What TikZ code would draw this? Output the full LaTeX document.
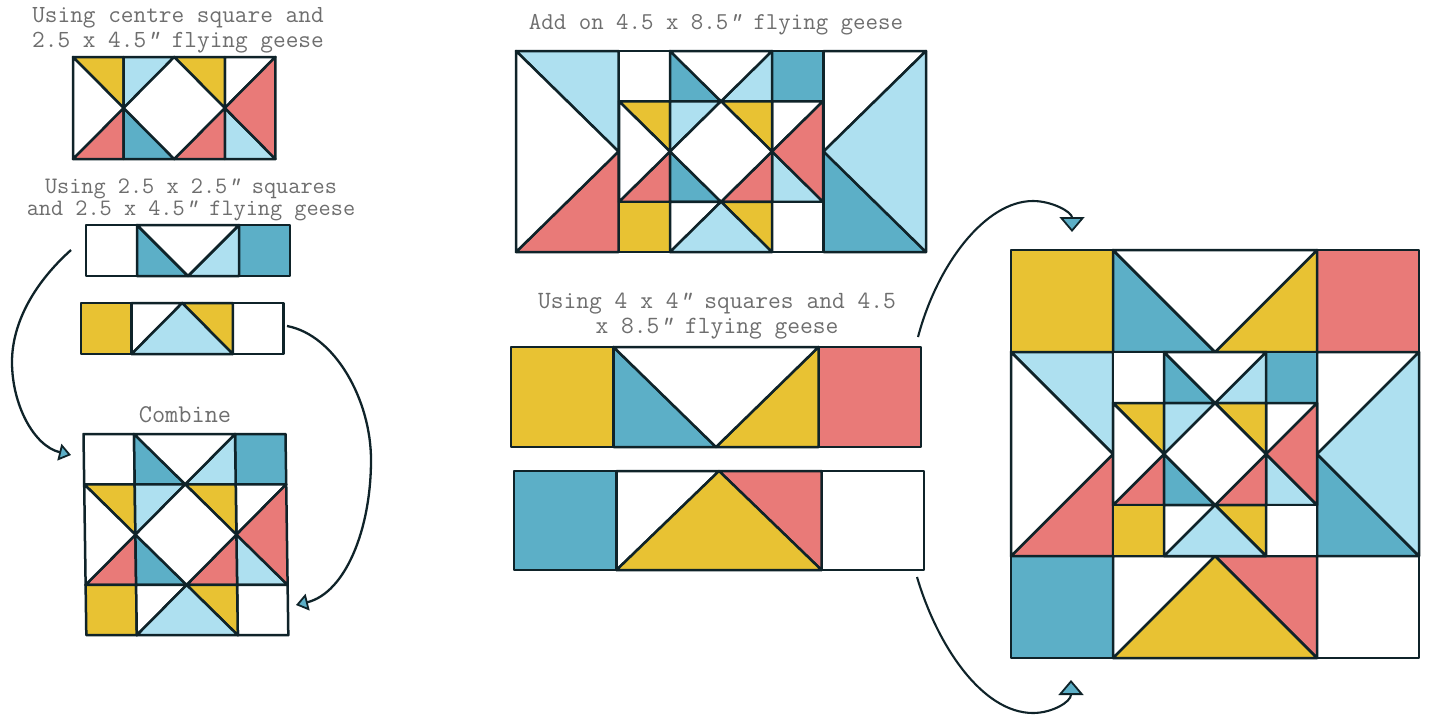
\documentclass[tikz,border=0pt]{standalone}
\usetikzlibrary{arrows.meta}
\definecolor{qy}{HTML}{E8C233}
\definecolor{ql}{HTML}{AEE0F0}
\definecolor{qd}{HTML}{5CAFC7}
\definecolor{qr}{HTML}{E97A78}
\definecolor{qk}{HTML}{0F2329}
\definecolor{qt}{HTML}{6E6E6E}
\tikzset{
  patch/.style={draw=qk,line width=2.5pt,line join=round},
  caption/.style={text=qt,align=center,inner sep=0pt,font=\ttfamily},
  curve/.style={draw=qk,line width=2.3pt,-{Triangle[length=12pt,width=17pt,fill=qd,line width=1.8pt]}},
  bigcurve/.style={draw=qk,line width=2.1pt,-{Triangle[length=15pt,width=25pt,fill=qd,line width=1.8pt]}}
}
\newcommand{\dq}{{\itshape ”}}
\newcommand{\tri}[4]{\filldraw[patch,fill=#1] #2 -- #3 -- #4 -- cycle;}
\newcommand{\sq}[3]{\filldraw[patch,fill=#1] (#2,#3) rectangle ({#2+1},{#3+1});}
% row with flying goose pointing down; #1 = y start
\newcommand{\rowdown}[6]{\sq{#2}{0}{#1}\sq{#6}{3}{#1}%
  \tri{#3}{(1,#1)}{(1,{#1+1})}{(2,{#1+1})}%
  \tri{#5}{(3,#1)}{(3,{#1+1})}{(2,{#1+1})}%
  \tri{#4}{(1,#1)}{(3,#1)}{(2,{#1+1})}}
% row with flying goose pointing up
\newcommand{\rowup}[6]{\sq{#2}{0}{#1}\sq{#6}{3}{#1}%
  \tri{#3}{(1,#1)}{(1,{#1+1})}{(2,#1)}%
  \tri{#5}{(3,#1)}{(3,{#1+1})}{(2,#1)}%
  \tri{#4}{(1,{#1+1})}{(3,{#1+1})}{(2,#1)}}
% side columns, pointing inwards
\newcommand{\colleft}[3]{\tri{#1}{(0,1)}{(1,1)}{(1,2)}\tri{#3}{(0,3)}{(1,3)}{(1,2)}\tri{#2}{(0,1)}{(0,3)}{(1,2)}}
\newcommand{\colright}[3]{\tri{#1}{(3,1)}{(4,1)}{(3,2)}\tri{#3}{(3,3)}{(4,3)}{(3,2)}\tri{#2}{(4,1)}{(4,3)}{(3,2)}}
% centre square in a square
\newcommand{\centre}{%
  \tri{ql}{(1,1)}{(2,1)}{(1,2)}\tri{qy}{(2,1)}{(3,1)}{(3,2)}%
  \tri{qd}{(1,2)}{(1,3)}{(2,3)}\tri{qr}{(3,2)}{(3,3)}{(2,3)}%
  \filldraw[patch,fill=white] (2,1) -- (3,2) -- (2,3) -- (1,2) -- cycle;}
\newcommand{\middleband}{\colleft{qy}{white}{qr}\colright{white}{qr}{ql}\centre}
\newcommand{\starblock}{\rowdown{0}{white}{qd}{white}{ql}{qd}\middleband\rowup{3}{qy}{white}{ql}{qy}{white}}
\begin{document}
\begin{tikzpicture}[x=1pt,y=-1pt]
\useasboundingbox (0,0) rectangle (1431,715);
\fill[white] (0,0) rectangle (1431,715);
% captions
\node[caption,font=\ttfamily\fontsize{24.6}{25}\selectfont] (capA) at (178,30) {Using centre square and\\2.5 x 4.5\dq{} flying geese};
\node[caption,font=\ttfamily\fontsize{23.6}{22}\selectfont] (capB) at (191,199.5) {Using 2.5 x 2.5\dq{} squares\\and 2.5 x 4.5\dq{} flying geese};
\node[caption,font=\ttfamily\fontsize{25.6}{25}\selectfont] (capC) at (185,415) {Combine};
\node[caption,font=\ttfamily\fontsize{24.2}{25}\selectfont] (capD) at (716,24.5) {Add on 4.5 x 8.5\dq{} flying geese};
\node[caption,font=\ttfamily\fontsize{24.8}{25}\selectfont] (capE) at (717,316.5) {Using 4 x 4\dq{} squares and 4.5\\x 8.5\dq{} flying geese};
% centre block with first geese
\begin{scope}[shift={(73,6)},x=50.6pt,y=-51pt]\middleband\end{scope}
% strips
\begin{scope}[shift={(86,225)},x=51pt,y=-51pt]\rowdown{0}{white}{qd}{white}{ql}{qd}\end{scope}
\begin{scope}[shift={(81,150)},x=50.6pt,y=-51pt]\rowup{3}{qy}{white}{ql}{qy}{white}\end{scope}
% combined block
\begin{scope}[shift={(83.5,434)},x=50.5pt,y=-50.3pt,xslant=-0.014]\starblock\end{scope}
% second stage
\begin{scope}[shift={(516,-49.5)},x=102.5pt,y=-100.5pt]\colleft{ql}{white}{qr}\colright{white}{ql}{qd}\end{scope}
\begin{scope}[shift={(619,51)},x=51pt,y=-50.25pt]\starblock\end{scope}
% big strips
\begin{scope}[shift={(511,347)},x=102.5pt,y=-100pt]\rowdown{0}{qy}{qd}{white}{qy}{qr}\end{scope}
\begin{scope}[shift={(514,174)},x=102.5pt,y=-99pt]\rowup{3}{qd}{white}{qy}{qr}{white}\end{scope}
% finished block
\begin{scope}[shift={(1011,250)},x=102pt,y=-102pt]
  \rowdown{0}{qy}{qd}{white}{qy}{qr}\rowup{3}{qd}{white}{qy}{qr}{white}
  \colleft{ql}{white}{qr}\colright{white}{ql}{qd}
\end{scope}
\begin{scope}[shift={(1113,352)},x=51pt,y=-51pt]\starblock\end{scope}
% connectors
\coordinate (s1) at (71,250); \coordinate (m1) at (12,362); \coordinate (e1) at (71,455);
\coordinate (s2) at (287,326); \coordinate (m2) at (371,460); \coordinate (e2) at (296,605);
\coordinate (s3) at (918,337); \coordinate (m3) at (1033,201); \coordinate (e3) at (1072,232);
\coordinate (s4) at (917,577); \coordinate (m4) at (1033,713); \coordinate (e4) at (1071,680);
\draw[curve] (s1) .. controls (32,285) and (12,325) .. (m1) .. controls (12,405) and (34,446) .. (e1);
\draw[curve] (s2) .. controls (335,335) and (371,400) .. (m2) .. controls (371,530) and (345,593) .. (e2);
\draw[bigcurve] (s3) .. controls (937,265) and (985,201) .. (m3) .. controls (1052,201) and (1072,212) .. (e3);
\draw[bigcurve] (s4) .. controls (937,645) and (982,713) .. (m4) .. controls (1052,713) and (1071,702) .. (e4);
\end{tikzpicture}
\end{document}
